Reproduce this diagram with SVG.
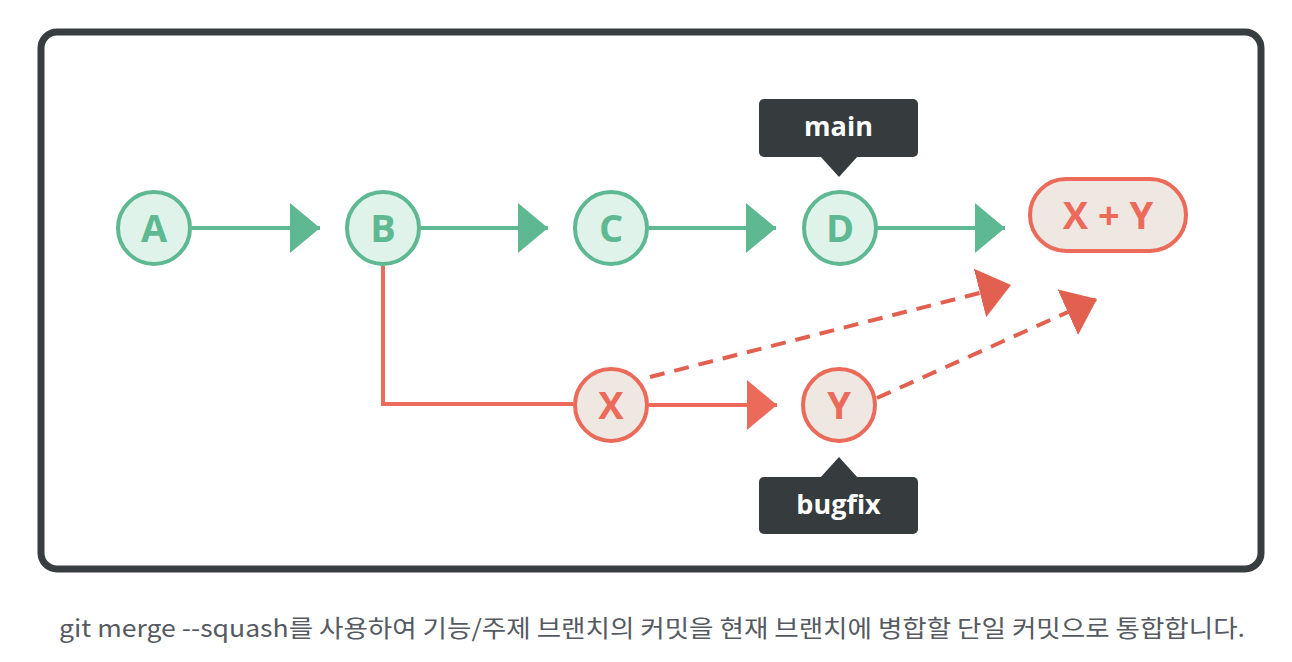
<svg xmlns="http://www.w3.org/2000/svg" width="1292" height="662" viewBox="0 0 1292 662">
<style>
.frame{fill:#fff;stroke:#383d40;stroke-width:7}
.g{fill:#dff3ea;stroke:#5eb892;stroke-width:4}
.r{fill:#efe7e2;stroke:#ec6a5a;stroke-width:4}
.gl{fill:#5eb892;font-family:"Open Sans","Liberation Sans",sans-serif;font-weight:700;font-size:38px;text-anchor:middle}
.rl{fill:#ec6a5a;font-family:"Open Sans","Liberation Sans",sans-serif;font-weight:700;font-size:38px;text-anchor:middle}
.gline{fill:none;stroke:#5eb892;stroke-width:4}
.rline{fill:none;stroke:#ec6a5a;stroke-width:4}
.dline{fill:none;stroke:#e2604f;stroke-width:4;stroke-dasharray:15 10}
.tag{fill:#363b3e}
.tagt{fill:#fff;font-family:"Open Sans","Liberation Sans",sans-serif;font-weight:700;font-size:27px;text-anchor:middle}
.cap{fill:#555a62;font-family:"Noto Sans CJK KR","Noto Sans",sans-serif;font-weight:400;font-size:24px}
</style>
<defs>
<marker id="ag" markerUnits="userSpaceOnUse" markerWidth="30" markerHeight="50" refX="30" refY="25" orient="auto" viewBox="0 0 30 50"><path d="M0,0 L30,25 L0,50 z" fill="#5eb892"/></marker>
<marker id="ar" markerUnits="userSpaceOnUse" markerWidth="30" markerHeight="50" refX="30" refY="25" orient="auto" viewBox="0 0 30 50"><path d="M0,0 L30,25 L0,50 z" fill="#ec6a5a"/></marker>
<marker id="ad" markerUnits="userSpaceOnUse" markerWidth="32" markerHeight="50" refX="32" refY="25" orient="auto" viewBox="0 0 32 50"><path d="M0,0 L32,25 L0,50 z" fill="#e2604f"/></marker>
</defs>
<rect class="frame" x="41" y="32" width="1220" height="537" rx="16"/>
<g id="connectors">
<line class="gline" x1="192" y1="228" x2="320" y2="228" marker-end="url(#ag)"/>
<line class="gline" x1="421" y1="228" x2="548" y2="228" marker-end="url(#ag)"/>
<line class="gline" x1="649" y1="228" x2="776" y2="228" marker-end="url(#ag)"/>
<line class="gline" x1="877" y1="228" x2="1005" y2="228" marker-end="url(#ag)"/>
<path class="rline" d="M383,266 V404 H573"/>
<line class="rline" x1="649" y1="405" x2="777" y2="405" marker-end="url(#ar)"/>
<line class="dline" x1="650" y1="377" x2="1011" y2="285" marker-end="url(#ad)"/>
<line class="dline" x1="877" y1="398" x2="1097" y2="299" marker-end="url(#ad)"/>
</g>
<g id="A"><circle class="g" cx="154" cy="228" r="36"/><text class="gl" x="154" y="242">A</text></g>
<g id="B"><circle class="g" cx="383" cy="228" r="36"/><text class="gl" x="383" y="242">B</text></g>
<g id="C"><circle class="g" cx="611" cy="228" r="36"/><text class="gl" x="611" y="242">C</text></g>
<g id="D"><circle class="g" cx="840" cy="228" r="36"/><text class="gl" x="840" y="242">D</text></g>
<g id="XY"><rect class="r" x="1030" y="179" width="156" height="72" rx="36"/><text class="rl" x="1108" y="229">X + Y</text></g>
<g id="X"><circle class="r" cx="611" cy="405" r="36"/><text class="rl" x="611" y="419">X</text></g>
<g id="Y"><circle class="r" cx="839" cy="405" r="36"/><text class="rl" x="839" y="419">Y</text></g>
<g id="main"><rect class="tag" x="759" y="99" width="159" height="58" rx="5"/><path class="tag" d="M820,156 L839,177 L858,156 z"/><text class="tagt" x="838.5" y="136">main</text></g>
<g id="bugfix"><rect class="tag" x="759" y="477" width="159" height="57" rx="5"/><path class="tag" d="M820,478 L839,457 L858,478 z"/><text class="tagt" x="838.5" y="514">bugfix</text></g>
<text class="cap" x="59" y="637" textLength="1186" lengthAdjust="spacingAndGlyphs">git merge --squash를 사용하여 기능/주제 브랜치의 커밋을 현재 브랜치에 병합할 단일 커밋으로 통합합니다.</text>
</svg>
